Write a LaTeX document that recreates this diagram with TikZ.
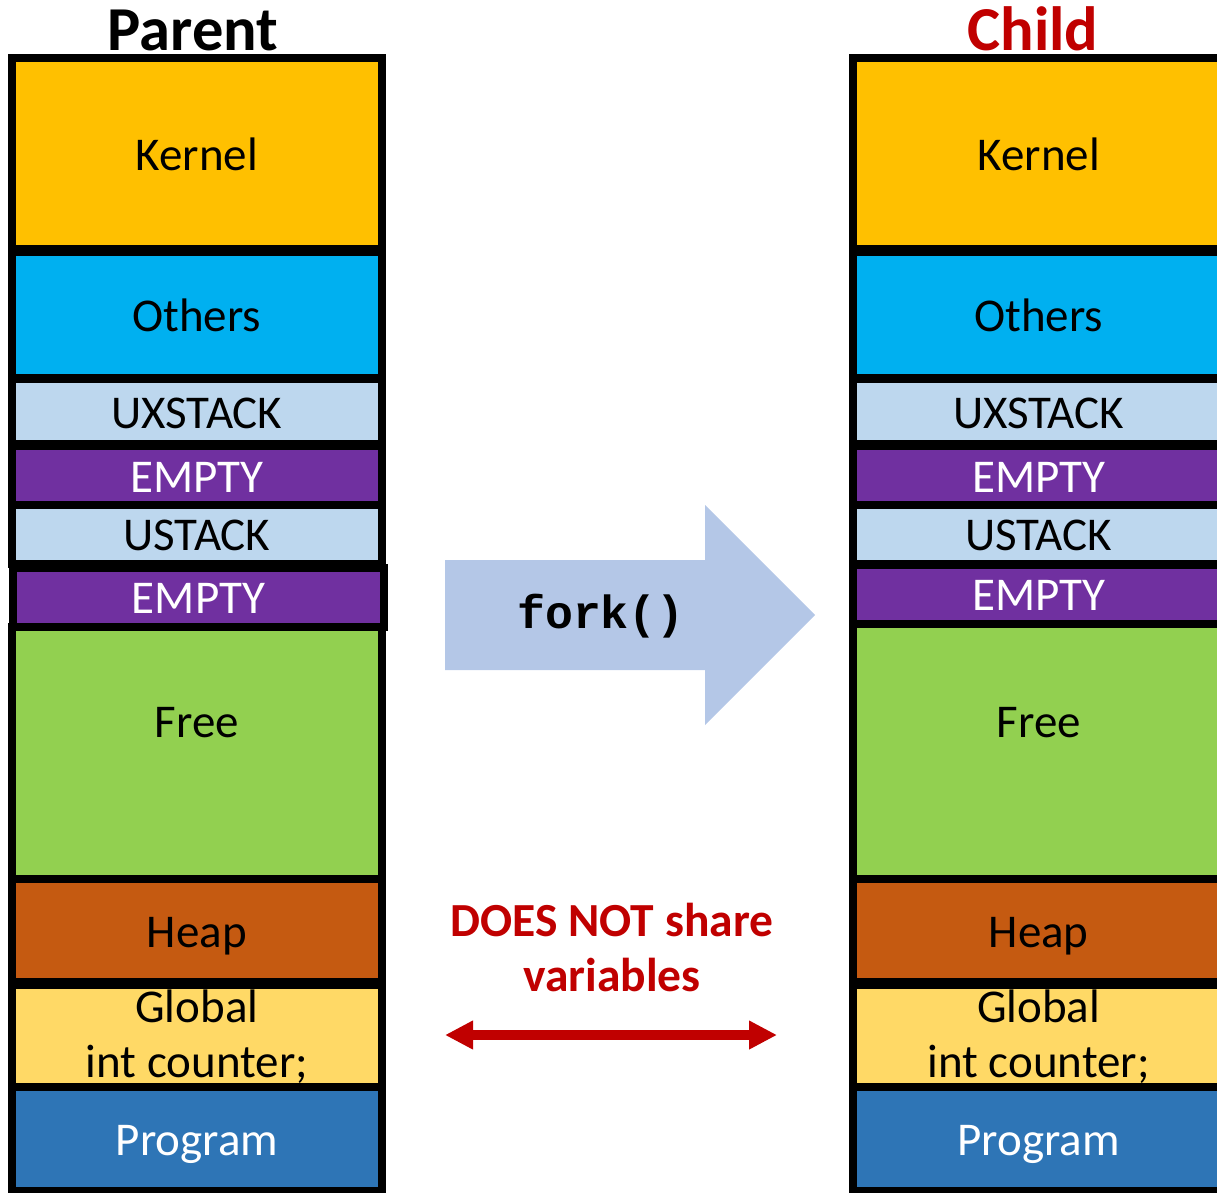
\documentclass[tikz,border=0pt]{standalone}
\usepackage{fontspec}
\setmainfont{Carlito}
\newfontfamily\codefont{Liberation Mono}
\usetikzlibrary{arrows.meta}

\definecolor{kernelc}{HTML}{FFC000}
\definecolor{othersc}{HTML}{00B0F0}
\definecolor{stackc}{HTML}{BDD7EE}
\definecolor{emptyc}{HTML}{7030A0}
\definecolor{freec}{HTML}{92D050}
\definecolor{heapc}{HTML}{C55A11}
\definecolor{globalc}{HTML}{FFD966}
\definecolor{programc}{HTML}{2E75B6}
\definecolor{forkc}{HTML}{B4C7E7}
\definecolor{darkred}{HTML}{C00000}

\begin{document}
\begin{tikzpicture}[x=1pt, y=-1pt,
  segbox/.style={draw=black, line width=8pt, minimum width=370.8pt,
    inner sep=0pt, outer sep=0pt, font=\fontsize{47}{55}\selectfont},
  seg/.style={segbox, text height=33pt, text depth=0pt},
  title/.style={font=\fontsize{62.5}{70}\selectfont\bfseries, anchor=base, inner sep=0pt},
  note/.style={font=\fontsize{47.5}{55}\selectfont\bfseries, text=darkred, align=center, inner sep=0pt},
  code/.style={font=\fontsize{46.5}{52}\selectfont\codefont\bfseries, anchor=base, inner sep=0pt},
  redline/.style={draw=darkred, line width=10pt,
    {Triangle[length=28pt,width=27pt]}-{Triangle[length=28pt,width=27pt]}}
]
\clip (0,0) rectangle (1217,1192);

% ---- parent address space ----
\node[title] (ptitle) at (193,50) {Parent};
\node[seg, fill=kernelc,  minimum height=191pt]   (pk)  at (196.9,153.5)  {Kernel};
\node[seg, fill=othersc,  minimum height=126pt]   (po)  at (196.9,315)    {Others};
\node[seg, fill=stackc,   minimum height=65pt]    (pux) at (196.9,411.5)  {UXSTACK};
\node[seg, fill=emptyc, text=white, minimum height=60pt] (pe1) at (196.9,476) {EMPTY};
\node[seg, fill=stackc,   minimum height=58.5pt]  (pus) at (196.9,534.25) {USTACK};
\node[seg, fill=emptyc, text=white, minimum height=59.5pt] (pe2) at (198.4,597.25) {EMPTY};
\node[seg, fill=freec,    minimum height=252pt, text depth=63.3pt] (pf) at (196.9,753) {Free};
\node[seg, fill=heapc,    minimum height=103pt]   (ph)  at (196.9,930.5)  {Heap};
\node[segbox, fill=globalc, minimum height=104pt, align=center] (pg) at (196.9,1037) {Global\\int counter;};
\node[seg, fill=programc, text=white, minimum height=104pt] (pp) at (196.9,1139) {Program};

% ---- child address space ----
\node[title, text=darkred] (ctitle) at (1033,50) {Child};
\node[seg, fill=kernelc,  minimum height=191pt]   (ck)  at (1038.7,153.5)  {Kernel};
\node[seg, fill=othersc,  minimum height=126pt]   (co)  at (1038.7,315)    {Others};
\node[seg, fill=stackc,   minimum height=65pt]    (cux) at (1038.7,411.5)  {UXSTACK};
\node[seg, fill=emptyc, text=white, minimum height=59.7pt] (ce1) at (1038.7,475.85) {EMPTY};
\node[seg, fill=stackc,   minimum height=58.7pt]  (cus) at (1038.7,534.35) {USTACK};
\node[seg, fill=emptyc, text=white, minimum height=59.3pt] (ce2) at (1038.7,594.35) {EMPTY};
\node[seg, fill=freec,    minimum height=254.7pt, text depth=60.6pt] (cf) at (1038.7,751.65) {Free};
\node[seg, fill=heapc,    minimum height=103pt]   (ch)  at (1038.7,930.5)  {Heap};
\node[segbox, fill=globalc, minimum height=104pt, align=center] (cg) at (1038.7,1037) {Global\\int counter;};
\node[seg, fill=programc, text=white, minimum height=104pt] (cp) at (1038.7,1139) {Program};

% ---- fork() block arrow ----
\fill[forkc] (445,560) -- (705,560) -- (705,505) -- (815,615)
  -- (705,725) -- (705,670) -- (445,670) -- cycle;
\node[code] (fork) at (601,628) {fork()};

% ---- no sharing of variables ----
\node[note] (share) at (612,947) {DOES NOT share\\variables};
\coordinate (sl) at (445,1035);
\coordinate (sr) at (777,1035);
\draw[redline] (sl) -- (sr);
\end{tikzpicture}
\end{document}
